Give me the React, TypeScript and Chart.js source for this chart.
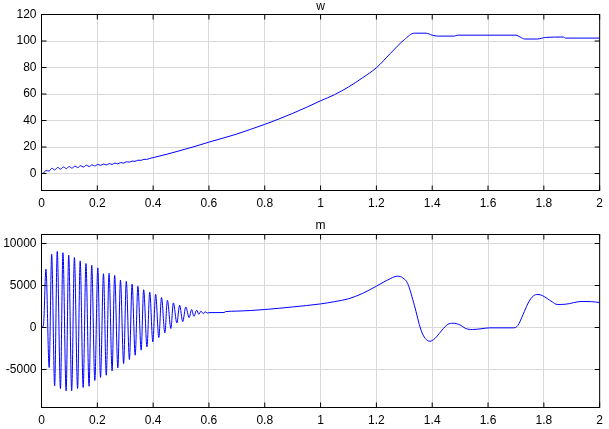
import React, { useEffect, useRef } from "react";
import { Chart, registerables } from "chart.js";

Chart.register(...registerables);

const FONT = "'Liberation Sans', Arial, Helvetica, sans-serif";

const xTicks = [0, 0.2, 0.4, 0.6, 0.8, 1, 1.2, 1.4, 1.6, 1.8, 2];
const wTicks = [0, 20, 40, 60, 80, 100, 120];
const mTicks = [-5000, 0, 5000, 10000];

const wTime = [
  0, 0.008, 0.016, 0.027, 0.037, 0.047, 0.058, 0.068, 0.079, 0.089,
  0.099, 0.109, 0.12, 0.13, 0.14, 0.15, 0.161, 0.171, 0.181, 0.191,
  0.202, 0.212, 0.222, 0.232, 0.243, 0.253, 0.263, 0.273, 0.284, 0.294,
  0.304, 0.315, 0.325, 0.335, 0.346, 0.356, 0.367, 0.377, 0.388, 0.4,
  0.45, 0.5, 0.55, 0.6, 0.65, 0.7, 0.75, 0.8, 0.85, 0.9,
  0.95, 1.0, 1.05, 1.1, 1.15, 1.2, 1.25, 1.3, 1.336, 1.378,
  1.4, 1.42, 1.48, 1.49, 1.7, 1.715, 1.732, 1.776, 1.806, 1.87,
  1.877, 2.0,
];
const wValue = [
  0, 0.5, 2.3, 1.8, 4.0, 2.7, 4.6, 3.3, 5.0, 3.7,
  5.3, 4.1, 5.6, 4.5, 5.9, 4.9, 6.3, 5.3, 6.6, 5.7,
  6.9, 6.1, 7.2, 6.5, 7.5, 6.9, 7.9, 7.3, 8.3, 7.8,
  8.9, 8.6, 9.4, 9.2, 10.1, 9.9, 10.7, 10.7, 11.4, 12.0,
  14.6, 17.5, 20.5, 23.7, 26.7, 29.8, 33.4, 37.1, 41.1, 45.4,
  50.0, 54.9, 59.5, 65.3, 72.2, 79.8, 90.6, 101.0, 105.9, 105.9,
  104.4, 103.7, 103.7, 104.4, 104.4, 103.0, 101.5, 101.5, 102.7, 103.0,
  102.2, 102.2,
];

const mTime = [
  0, 0.007, 0.016, 0.0275, 0.0364, 0.0471, 0.0564, 0.0679, 0.0768, 0.0882,
  0.0975, 0.1082, 0.1179, 0.1293, 0.1386, 0.1493, 0.1593, 0.1704, 0.18, 0.1911,
  0.2018, 0.2114, 0.2221, 0.2321, 0.2421, 0.2529, 0.2621, 0.2736, 0.2829, 0.2943,
  0.3039, 0.315, 0.3246, 0.3357, 0.3454, 0.3571, 0.3661, 0.3779, 0.3879, 0.3989,
  0.4089, 0.4204, 0.43, 0.4421, 0.4511, 0.4636, 0.4725, 0.485, 0.495, 0.506,
  0.517, 0.529, 0.538, 0.546, 0.556, 0.564, 0.571, 0.58, 0.586, 0.594,
  0.6, 0.654, 0.66, 0.7, 0.8, 0.9, 1.0, 1.05, 1.1, 1.15,
  1.2, 1.24, 1.276, 1.295, 1.312, 1.336, 1.36, 1.375, 1.392, 1.41,
  1.425, 1.455, 1.475, 1.5, 1.52, 1.544, 1.575, 1.604, 1.693, 1.703,
  1.711, 1.73, 1.746, 1.762, 1.779, 1.795, 1.812, 1.83, 1.848, 1.877,
  1.937, 1.97, 2.0,
];
const mValue = [
  0, 300, 6950, -4760, 8730, -6950, 9060, -7260, 8900, -7540,
  8610, -7540, 8330, -7260, 7930, -7140, 7620, -6990, 7400, -6300,
  7100, -5950, 6400, -5680, 6450, -5160, 6200, -4800, 5630, -4290,
  5500, -3810, 5150, -3300, 4900, -2700, 4500, -2310, 4200, -1710,
  3950, -1190, 3570, -640, 3250, -120, 2930, 550, 2650, 700,
  2450, 1180, 2150, 1330, 2060, 1570, 1950, 1650, 1880, 1720,
  1770, 1780, 1890, 1950, 2140, 2450, 2810, 3080, 3420, 4050,
  4920, 5650, 6110, 5900, 5240, 2650, -320, -1300, -1630, -1300,
  -720, 360, 510, 300, -120, -240, -150, -40, -40, 100,
  470, 1900, 3050, 3750, 3930, 3800, 3450, 3050, 2740, 2770,
  3100, 3080, 2980,
];

const framePlugin = {
  id: "frame",
  afterDraw(chart: any, _args: any, opts: any) {
    const { ctx, chartArea } = chart;
    const { left, right, top, bottom } = chartArea;
    const xs = chart.scales.x;
    const ys = chart.scales.y;
    const tl = 5;
    ctx.save();
    ctx.strokeStyle = "#000";
    ctx.lineWidth = 1;
    ctx.beginPath();
    for (const v of xTicks) {
      const p = xs.getPixelForValue(v);
      ctx.moveTo(p, bottom);
      ctx.lineTo(p, bottom - tl);
      ctx.moveTo(p, top);
      ctx.lineTo(p, top + tl);
    }
    for (const v of opts.yTicks) {
      const p = ys.getPixelForValue(v);
      ctx.moveTo(left, p);
      ctx.lineTo(left + tl, p);
      ctx.moveTo(right, p);
      ctx.lineTo(right - tl, p);
    }
    ctx.stroke();
    ctx.strokeRect(left, top, right - left, bottom - top);
    ctx.fillStyle = "#000";
    ctx.font = `12px ${FONT}`;
    ctx.textAlign = "center";
    ctx.textBaseline = "middle";
    ctx.fillText(opts.title, (left + right) / 2, opts.titleY);
    ctx.restore();
  },
};

function makeConfig(p: {
  title: string;
  titleY: number;
  times: number[];
  values: number[];
  yMin: number;
  yMax: number;
  yTicks: number[];
  padTop: number;
  xHeight: number;
}): any {
  const tickFont = { size: 12, family: FONT };
  return {
    type: "line",
    data: {
      datasets: [
        {
          data: p.times.map((t, i) => ({ x: t, y: p.values[i] })),
          borderColor: "#0000ff",
          borderWidth: 1,
          pointRadius: 0,
          fill: false,
          cubicInterpolationMode: "monotone",
        },
      ],
    },
    options: {
      animation: false,
      responsive: false,
      maintainAspectRatio: false,
      events: [],
      layout: { padding: { top: p.padTop, right: 7.5, left: 0, bottom: 0 } },
      plugins: {
        legend: { display: false },
        tooltip: { enabled: false },
        title: { display: false },
        frame: { title: p.title, titleY: p.titleY, yTicks: p.yTicks },
      },
      scales: {
        x: {
          type: "linear",
          min: 0,
          max: 2,
          afterBuildTicks: (s: any) => {
            s.ticks = xTicks.map((v) => ({ value: v }));
          },
          afterFit: (s: any) => {
            s.height = p.xHeight;
          },
          grid: { color: "#d9d9d9", drawTicks: false, lineWidth: 1 },
          border: { display: false },
          ticks: {
            color: "#000",
            font: tickFont,
            padding: 6,
            maxRotation: 0,
            autoSkip: false,
            callback: (v: any) => String(Math.round(Number(v) * 10) / 10),
          },
        },
        y: {
          type: "linear",
          min: p.yMin,
          max: p.yMax,
          afterBuildTicks: (s: any) => {
            s.ticks = p.yTicks.map((v) => ({ value: v }));
          },
          afterFit: (s: any) => {
            s.width = 41.5;
          },
          grid: { color: "#d9d9d9", drawTicks: false, lineWidth: 1 },
          border: { display: false },
          ticks: {
            color: "#000",
            font: tickFont,
            padding: 5,
            autoSkip: false,
            callback: (v: any) => String(v),
          },
        },
      },
    },
    plugins: [framePlugin],
  };
}

export default function App() {
  const topRef = useRef<HTMLCanvasElement | null>(null);
  const botRef = useRef<HTMLCanvasElement | null>(null);

  useEffect(() => {
    const c1 = new Chart(
      topRef.current as HTMLCanvasElement,
      makeConfig({
        title: "w",
        titleY: 6.5,
        times: wTime,
        values: wValue,
        yMin: -12.8,
        yMax: 120,
        yTicks: wTicks,
        padTop: 14.5,
        xHeight: 24.5,
      })
    );
    const c2 = new Chart(
      botRef.current as HTMLCanvasElement,
      makeConfig({
        title: "m",
        titleY: 10.5,
        times: mTime,
        values: mValue,
        yMin: -9520,
        yMax: 11070,
        yTicks: mTicks,
        padTop: 19.5,
        xHeight: 21.5,
      })
    );
    return () => {
      c1.destroy();
      c2.destroy();
    };
  }, []);

  return (
    <div style={{ position: "absolute", left: 0, top: 0, width: 609, height: 429, background: "#fff" }}>
      <canvas ref={topRef} width={609} height={215} style={{ position: "absolute", left: 0, top: 0, width: 609, height: 215 }} />
      <canvas ref={botRef} width={609} height={214} style={{ position: "absolute", left: 0, top: 215, width: 609, height: 214 }} />
    </div>
  );
}
